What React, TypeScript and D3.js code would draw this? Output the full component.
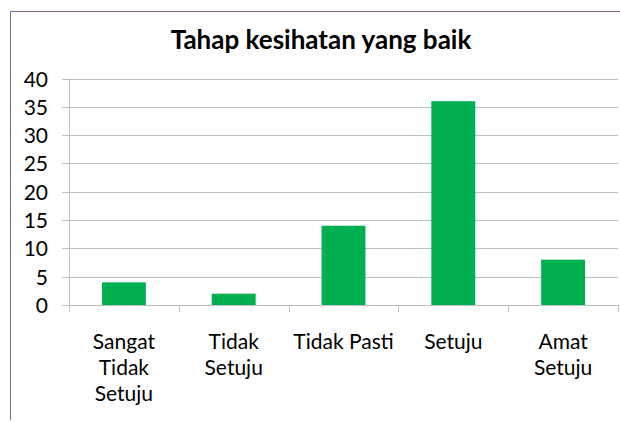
import React from "react";
import * as d3 from "d3";

const categories: string[][] = [
  ["Sangat", "Tidak", "Setuju"],
  ["Tidak", "Setuju"],
  ["Tidak Pasti"],
  ["Setuju"],
  ["Amat", "Setuju"],
];
const values: number[] = [4, 2, 14, 36, 8];
const yTicks: number[] = [0, 5, 10, 15, 20, 25, 30, 35, 40];
const title = "Tahap kesihatan yang baik";

const W = 620;
const H = 422;
const plot = { left: 69, right: 618, top: 78.5, bottom: 305 };
const font = "Lato, 'Open Sans', sans-serif";

export default function App() {
  const x = d3
    .scaleBand<number>()
    .domain(d3.range(values.length))
    .range([plot.left, plot.right])
    .paddingInner(0.6)
    .paddingOuter(0.3);
  const step = (plot.right - plot.left) / values.length;
  const y = d3.scaleLinear().domain([0, 40]).range([plot.bottom, plot.top]);

  return (
    <svg
      width={W}
      height={H}
      style={{ position: "absolute", left: 0, top: 0, background: "#fff" }}
    >
      <rect x={0} y={0} width={W} height={H} fill="#fff" />
      <line x1={10.5} y1={11.5} x2={W} y2={11.5} stroke="#8064a2" strokeWidth={1} />
      <line x1={10.5} y1={11.5} x2={10.5} y2={420} stroke="#8064a2" strokeWidth={1} />
      <text
        x={321}
        y={49}
        textAnchor="middle"
        fontFamily={font}
        fontWeight="bold"
        fontSize={26}
        fill="#000"
      >
        {title}
      </text>
      {yTicks.map((t) => (
        <g key={t}>
          <line
            x1={plot.left - 7}
            x2={plot.right}
            y1={Math.round(y(t)) + 0.5}
            y2={Math.round(y(t)) + 0.5}
            stroke="#bfbfbf"
          />
          <text
            x={48}
            y={y(t) + 8}
            textAnchor="end"
            fontFamily={font}
            fontSize={21}
            fill="#000"
          >
            {t}
          </text>
        </g>
      ))}
      <line x1={plot.left + 0.5} x2={plot.left + 0.5} y1={plot.top} y2={plot.bottom} stroke="#bfbfbf" />
      {d3.range(values.length + 1).map((i) => (
        <line
          key={i}
          x1={Math.round(plot.left + i * step) + 0.5}
          x2={Math.round(plot.left + i * step) + 0.5}
          y1={plot.bottom}
          y2={plot.bottom + 7}
          stroke="#bfbfbf"
        />
      ))}
      {values.map((v, i) => (
        <rect
          key={i}
          x={x(i)}
          y={y(v)}
          width={x.bandwidth()}
          height={y(0) - y(v)}
          fill="#00b050"
        />
      ))}
      {categories.map((lines, i) => (
        <text
          key={i}
          textAnchor="middle"
          fontFamily={font}
          fontSize={21}
          fill="#000"
        >
          {lines.map((l, j) => (
            <tspan key={j} x={(x(i) as number) + x.bandwidth() / 2} y={349 + j * 26}>
              {l}
            </tspan>
          ))}
        </text>
      ))}
    </svg>
  );
}
